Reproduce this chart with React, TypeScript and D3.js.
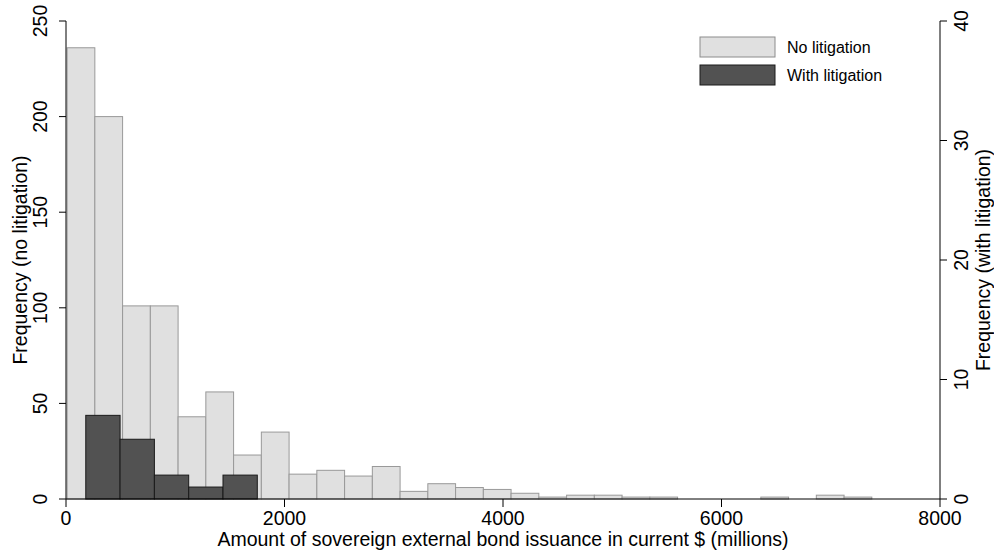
import React from "react";
import * as d3 from "d3";

const W = 994;
const H = 557;

// Histogram of bond issuance, no litigation (bin start ~10, width ~254)
const binStartNo = 10;
const binWidthNo = 254;
const countsNo = [236, 200, 101, 101, 43, 56, 23, 35, 13, 15, 12, 17, 4, 8, 6, 5, 3, 1, 2, 2, 1, 1, 0, 0, 0, 1, 0, 2, 1];

// With litigation
const binStartLit = 181;
const binWidthLit = 314;
const countsLit = [7, 5, 2, 1, 2];

const xTicks = [0, 2000, 4000, 6000, 8000];
const yLeftTicks = [0, 50, 100, 150, 200, 250];
const yRightTicks = [0, 10, 20, 30, 40];

const legendItems = [
  { label: "No litigation", fill: "#e0e0e0", stroke: "#8c8c8c" },
  { label: "With litigation", fill: "#525252", stroke: "#1a1a1a" },
];

export default function App() {
  const left = 66, right = 940, top = 21, bottom = 499;
  const x = d3.scaleLinear().domain([0, 8000]).range([left, right]);
  const yL = d3.scaleLinear().domain([0, 250]).range([bottom, top]);
  const yR = d3.scaleLinear().domain([0, 40]).range([bottom, top]);
  const font = "Liberation Sans, Arial, sans-serif";
  const fs = 19.5;

  const noBars = countsNo.map((c, i) => ({
    x0: binStartNo + i * binWidthNo,
    x1: binStartNo + (i + 1) * binWidthNo,
    c,
  }));
  const litBars = countsLit.map((c, i) => ({
    x0: binStartLit + i * binWidthLit,
    x1: binStartLit + (i + 1) * binWidthLit,
    c,
  }));

  return (
    <svg width={W} height={H} style={{ position: "absolute", left: 0, top: 0, background: "#fff" }} fontFamily={font}>
      <rect x={0} y={0} width={W} height={H} fill="#fff" />
      {noBars.filter(b => b.c > 0).map((b, i) => (
        <rect key={"n" + i} x={x(b.x0)} y={yL(b.c)} width={x(b.x1) - x(b.x0)} height={yL(0) - yL(b.c)}
          fill="#e0e0e0" stroke="#999" strokeWidth={1} />
      ))}
      {litBars.filter(b => b.c > 0).map((b, i) => (
        <rect key={"l" + i} x={x(b.x0)} y={yR(b.c)} width={x(b.x1) - x(b.x0)} height={yR(0) - yR(b.c)}
          fill="#525252" stroke="#1a1a1a" strokeWidth={1} />
      ))}
      {/* axes */}
      <line x1={left} x2={left} y1={top} y2={bottom} stroke="#000" strokeWidth={1} />
      <line x1={right} x2={right} y1={top} y2={bottom} stroke="#000" strokeWidth={1} />
      <line x1={left} x2={right} y1={bottom} y2={bottom} stroke="#000" strokeWidth={1} />
      {yLeftTicks.map(t => (
        <g key={"yl" + t}>
          <line x1={left - 7} x2={left} y1={yL(t)} y2={yL(t)} stroke="#000" />
          <text transform={`translate(47,${yL(t)}) rotate(-90)`} textAnchor="middle" fontSize={fs} fill="#000">{t}</text>
        </g>
      ))}
      {yRightTicks.map(t => (
        <g key={"yr" + t}>
          <line x1={right} x2={right + 7} y1={yR(t)} y2={yR(t)} stroke="#000" />
          <text transform={`translate(968,${yR(t)}) rotate(-90)`} textAnchor="middle" fontSize={fs} fill="#000">{t}</text>
        </g>
      ))}
      {xTicks.map(t => (
        <g key={"x" + t}>
          <line x1={x(t)} x2={x(t)} y1={bottom} y2={bottom + 8} stroke="#000" />
          <text x={x(t)} y={525} textAnchor="middle" fontSize={fs} fill="#000">{t}</text>
        </g>
      ))}
      <text transform={`translate(27,${(top + bottom) / 2}) rotate(-90)`} textAnchor="middle" fontSize={fs} fill="#000">Frequency (no litigation)</text>
      <text transform={`translate(990,${(top + bottom) / 2}) rotate(-90)`} textAnchor="middle" fontSize={fs} fill="#000">Frequency (with litigation)</text>
      <text x={(left + right) / 2} y={546} textAnchor="middle" fontSize={fs} fill="#000">Amount of sovereign external bond issuance in current $ (millions)</text>
      {legendItems.map((it, i) => (
        <g key={it.label}>
          <rect x={700} y={37 + i * 28} width={75} height={20} fill={it.fill} stroke={it.stroke} />
          <text x={787} y={53 + i * 28} fontSize={16} fill="#000">{it.label}</text>
        </g>
      ))}
    </svg>
  );
}
